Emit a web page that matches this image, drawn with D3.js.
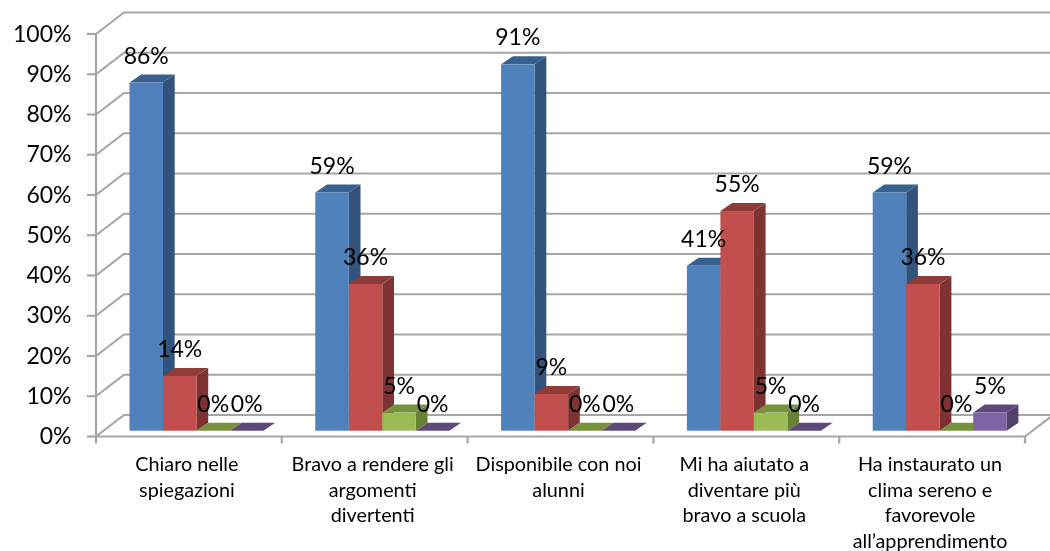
<!DOCTYPE html>
<html><head><meta charset="utf-8">
<script src="https://cdn.jsdelivr.net/npm/d3@7"></script>
<style>html,body{margin:0;padding:0;background:#fff}svg{display:block}text{font-family:Lato,"Open Sans",sans-serif;fill:#000}</style>
</head><body><svg id="c" width="1050" height="551"></svg>
<script>
const categories = [
  ["Chiaro nelle","spiegazioni"],
  ["Bravo a rendere gli","argomenti","divertenti"],
  ["Disponibile con noi","alunni"],
  ["Mi ha aiutato a","diventare più","bravo a scuola"],
  ["Ha instaurato un","clima sereno e","favorevole","all’apprendimento"]
];
const seriesNames = ["A","B","C","D"];
const serie1 = [0.864,0.591,0.909,0.409,0.591];
const serie2 = [0.136,0.364,0.091,0.545,0.364];
const serie3 = [0,0.045,0,0.045,0];
const serie4 = [0,0,0,0,0.045];
const allSeries = [serie1,serie2,serie3,serie4];
const frontColors = ["#4f81bd","#c0504d","#9bbb59","#8064a2"];
const sideColors = ["#30527c","#7e3331","#668035","#53406d"];
const topColors = ["#38608f","#8f3b39","#76923c","#5f4a7a"];
const yTicks = d3.range(0,1.01,0.1);

const W=1050,H=551;
const svg=d3.select("#c");
const defs=svg.append("defs");
defs.append("filter").attr("id","soft").attr("x","-5%").attr("y","-5%").attr("width","110%").attr("height","110%")
  .append("feGaussianBlur").attr("stdDeviation",0.7);
defs.append("filter").attr("id","softText").attr("x","-5%").attr("y","-5%").attr("width","110%").attr("height","110%")
  .append("feGaussianBlur").attr("stdDeviation",0.3);

const axisLeftX=96, axisRightX=1025, depthX=28, depthY=-21.5;
const y=d3.scaleLinear().domain([0,1]).range([436.5,34]);
const x0=d3.scaleBand().domain(d3.range(categories.length)).range([axisLeftX,axisRightX]);
const x1=d3.scaleBand().domain(seriesNames).range([33.5,167.5]);
const barDepthX=11.7, barDepthY=-8;
const barY=d3.scaleLinear().domain([0,1]).range([430.7,27.7]);
const pct=d3.format(".0%");

const g=svg.append("g").attr("filter","url(#soft)");
const gridColor="#a6a6a6";
const sw=2.2;
yTicks.forEach(t=>{
  const yy=y(t);
  const path=d3.path();
  path.moveTo(axisLeftX,yy);
  path.lineTo(axisLeftX+depthX,yy+depthY);
  path.lineTo(W+5,yy+depthY);
  g.append("path").attr("d",path.toString()).attr("fill","none").attr("stroke",gridColor).attr("stroke-width",sw);
  g.append("line").attr("x1",axisLeftX-9).attr("x2",axisLeftX).attr("y1",yy).attr("y2",yy).attr("stroke",gridColor).attr("stroke-width",sw);
});
g.append("line").attr("x1",axisLeftX).attr("x2",axisLeftX).attr("y1",y(1)).attr("y2",y(0)+1).attr("stroke",gridColor).attr("stroke-width",sw);
g.append("line").attr("x1",axisLeftX).attr("x2",axisRightX).attr("y1",y(0)).attr("y2",y(0)).attr("stroke",gridColor).attr("stroke-width",sw);
g.append("line").attr("x1",axisRightX).attr("x2",axisRightX+depthX).attr("y1",y(0)).attr("y2",y(0)+depthY).attr("stroke",gridColor).attr("stroke-width",sw);
d3.range(categories.length+1).forEach(i=>{
  const xx=i<categories.length?x0(i):axisRightX;
  g.append("line").attr("x1",xx).attr("x2",xx).attr("y1",y(0)).attr("y2",y(0)+7).attr("stroke",gridColor).attr("stroke-width",sw);
});
categories.forEach((c,i)=>{
  seriesNames.forEach((s,k)=>{
    const v=allSeries[k][i];
    const l=x0(i)+x1(s), w=x1.bandwidth(), r=l+w, t=barY(v), b=barY(0);
    const dx=barDepthX, dy=barDepthY;
    g.append("polygon").attr("fill",sideColors[k])
      .attr("points",[[r,t],[r+dx,t+dy],[r+dx,b+dy],[r,b]].join(" "));
    g.append("polygon").attr("fill",topColors[k])
      .attr("points",[[l,t],[l+dx,t+dy],[r+dx,t+dy],[r,t]].join(" "));
    if(v>0) g.append("rect").attr("x",l).attr("y",t).attr("width",w).attr("height",b-t).attr("fill",frontColors[k]);
  });
});
const tg=svg.append("g").attr("filter","url(#softText)");
yTicks.forEach(t=>{
  tg.append("text").attr("x",71.5).attr("y",y(t)+7.5).attr("text-anchor","end").attr("font-size",23).text(pct(t));
});
categories.forEach((c,i)=>{
  seriesNames.forEach((s,k)=>{
    const v=allSeries[k][i];
    tg.append("text").attr("x",x0(i)+x1(s)+x1.bandwidth()/2).attr("y",barY(v)-19)
      .attr("text-anchor","middle").attr("font-size",23).text(pct(v));
  });
});
categories.forEach((c,i)=>{
  c.forEach((line,j)=>{
    tg.append("text").attr("x",x0(i)+x0.bandwidth()/2-2).attr("y",471+j*25.5)
      .attr("text-anchor","middle").attr("font-size",19.8).text(line);
  });
});
</script></body></html>
